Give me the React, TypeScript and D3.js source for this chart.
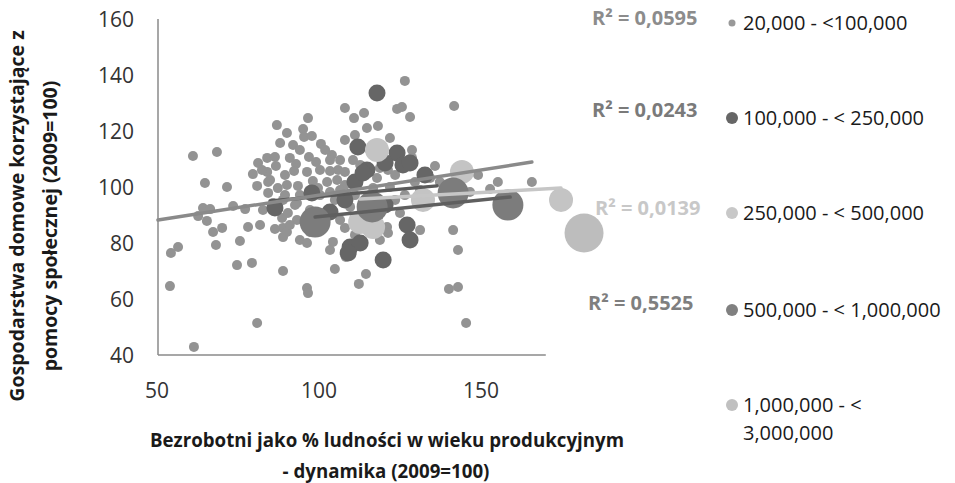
import React, { useRef, useEffect } from 'react';
import * as d3 from 'd3';

// series: 20,000 - <100,000
const s1x = [126.5, 141.7, 108.0, 113.9, 110.8, 96.6, 87.0, 118.2, 114.8, 124.1, 125.6, 128.1, 90.1, 95.1, 95.4, 97.8, 88.0, 92.0, 100.6, 108.0,
  111.1, 121.9, 61.1, 68.5, 81.2, 84.0, 86.4, 96.9, 104.0, 92.9, 92.3, 79.6, 84.0, 89.5, 84.3, 64.8, 71.6, 96.3, 100.3, 103.4,
  105.9, 80.9, 90.1, 93.5, 110.5, 128.7, 128.7, 118.8, 121.3, 135.8, 155.2, 165.7, 152.8, 98.1, 102.5, 105.6, 108.0, 117.9, 116.7, 121.9,
  84.9, 87.3, 84.3, 73.5, 77.2, 64.2, 66.4, 62.7, 82.7, 85.8, 65.4, 67.3, 70.1, 68.2, 78.1, 75.6, 56.5, 54.3, 88.6, 88.9,
  88.9, 86.4, 93.2, 94.1, 96.3, 104.3, 103.4, 108.0, 108.3, 121.0, 121.3, 141.4, 142.9, 74.7, 79.3, 88.9, 104.9, 114.5, 112.3, 54.0,
  96.3, 96.6, 140.1, 142.9, 80.9, 145.4, 61.4, 88.9, 93.2, 90.4, 90.1, 106.5,
  100.3, 104.9, 109.6, 97.2, 101.9, 111.1, 114.2, 106.5, 94.1, 99.7, 123.5, 126.5, 129.6, 134.3, 125.0, 111.1, 131.2, 137.3, 149.1, 146.6, 103.4,
  82.4, 86.7, 91.0, 99.1, 101.9, 106.5, 94.1, 89.5, 92.6, 99.7, 103.4, 108.0, 112.7, 115.7, 91.0, 97.2, 81.8, 115.7, 123.5, 131.2, 118.8];
const s1y = [137.9, 128.9, 128.2, 126.4, 124.6, 124.6, 122.1, 121.8, 121.1, 127.9, 128.6, 125.0, 119.3, 120.7, 117.9, 118.2, 115.7, 115.0, 115.4, 116.8,
  118.6, 117.5, 111.1, 112.5, 108.6, 110.4, 110.7, 110.7, 111.4, 108.2, 105.7, 104.6, 105.4, 104.3, 101.8, 101.4, 100.0, 105.4, 106.1, 105.7,
  106.1, 100.4, 100.7, 100.4, 109.6, 113.2, 110.4, 106.8, 106.1, 107.5, 101.8, 101.8, 99.3, 102.1, 101.8, 102.5, 100.7, 103.2, 99.6, 100.0,
  102.5, 99.6, 97.9, 93.2, 92.1, 92.5, 92.1, 89.6, 91.8, 94.3, 87.9, 83.9, 85.4, 79.3, 85.7, 80.7, 78.6, 76.4, 88.9, 85.4,
  82.1, 85.0, 88.2, 81.1, 80.0, 80.4, 77.5, 85.4, 75.0, 85.7, 83.6, 84.6, 77.5, 72.1, 72.9, 70.0, 70.7, 68.9, 65.4, 64.6,
  63.9, 62.1, 63.6, 64.3, 51.4, 51.4, 42.9, 95.4, 94.3, 90.7, 83.9, 88.2,
  97.1, 95.4, 92.9, 91.8, 90.0, 97.1, 90.0, 98.9, 97.1, 86.4, 95.4, 97.1, 101.8, 103.2, 90.7, 82.9, 84.6, 101.8, 104.3, 98.2, 109.6,
  106.1, 107.5, 110.4, 108.9, 113.2, 109.6, 113.2, 97.1, 93.6, 99.6, 98.2, 105.4, 107.9, 113.2, 86.4, 83.9, 86.4, 97.1, 104.3, 98.9, 81.1];

// series: 100,000 - < 250,000
const s2x = [117.9, 112.0, 124.1, 125.9, 128.1, 114.8, 111.1, 132.7, 97.8, 86.4, 127.2, 128.1, 119.8, 109.6, 112.7, 109.0, 113.6, 120.4, 108.0, 120.4, 131.2, 117.3, 103.4];
const s2y = [133.6, 114.3, 112.1, 107.9, 108.6, 106.1, 101.8, 104.3, 97.9, 92.5, 86.4, 81.1, 73.9, 78.6, 80.0, 76.4, 105.0, 108.6, 95.4, 93.6, 95.4, 90.0, 91.1];

// series: 250,000 - < 500,000
const s3x = [117.9, 144.1, 132.1, 112.7, 116.7, 174.7];
const s3y = [113.2, 105.4, 95.4, 87.5, 85.7, 95.4];

// series: 500,000 - < 1,000,000
const s4x = [98.8, 116.4, 141.4, 158.3];
const s4y = [87.5, 92.9, 97.9, 93.6];

// series: 1,000,000 - < 3,000,000
const s5x = [181.8];
const s5y = [83.6];

// linear trend lines [x0, y0, x1, y1]
const trend1 = [50.3, 88.2, 165.7, 108.9];
const trend2 = [84.9, 95.0, 136.4, 100.4];
const trend3 = [112.7, 95.7, 174.7, 99.6];
const trend4 = [98.8, 89.3, 159.0, 96.4];

const r2Labels = ['R² = 0,0595', 'R² = 0,0243', 'R² = 0,0139', 'R² = 0,5525'];
const legendLabels = [['20,000 - <100,000'], ['100,000 - < 250,000'], ['250,000 - < 500,000'], ['500,000 - < 1,000,000'], ['1,000,000 - <', '3,000,000']];
const xTicks = [50, 100, 150];
const yTicks = [40, 60, 80, 100, 120, 140, 160];

const FONT = '"Open Sans", sans-serif';

const drawChart = (svgEl: SVGSVGElement) => {
  const svg = d3.select(svgEl);
  svg.selectAll('*').remove();

  const x = d3.scaleLinear().domain([50, 150]).range([157, 481]);
  const y = d3.scaleLinear().domain([40, 160]).range([355, 19]);

  // axes lines
  svg.append('line').attr('x1', x(50) + 1).attr('x2', x(50) + 1).attr('y1', y(160)).attr('y2', y(40))
    .attr('stroke', '#8a8a8a').attr('stroke-width', 1.5);
  svg.append('line').attr('x1', x(50) + 1).attr('x2', x(170)).attr('y1', y(40)).attr('y2', y(40))
    .attr('stroke', '#8a8a8a').attr('stroke-width', 1.5);

  // tick labels
  svg.append('g').selectAll('text').data(yTicks).enter().append('text')
    .attr('x', 134).attr('y', d => y(d)).attr('dy', '0.36em')
    .attr('text-anchor', 'end').attr('font-family', FONT).attr('font-size', 21).attr('fill', '#333')
    .text(d => d);
  svg.append('g').selectAll('text').data(xTicks).enter().append('text')
    .attr('x', d => x(d)).attr('y', 398)
    .attr('text-anchor', 'middle').attr('font-family', FONT).attr('font-size', 21).attr('fill', '#333')
    .text(d => d);

  // points
  const series = [
    { xs: s1x, ys: s1y, r: 5, color: '#939393' },
    { xs: s2x, ys: s2y, r: 8.5, color: '#666666' },
    { xs: s3x, ys: s3y, r: 12, color: '#c4c4c4' },
    { xs: s4x, ys: s4y, r: 15.5, color: '#7c7c7c' },
    { xs: s5x, ys: s5y, r: 19.5, color: '#bdbdbd' },
  ];
  series.forEach(s => {
    svg.append('g').selectAll('circle').data(s.xs.map((v, i) => [v, s.ys[i]])).enter().append('circle')
      .attr('cx', d => x(d[0])).attr('cy', d => y(d[1])).attr('r', s.r).attr('fill', s.color);
  });

  // trend lines
  const trends = [
    { t: trend2, color: '#5a5a5a' },
    { t: trend1, color: '#8a8a8a' },
    { t: trend3, color: '#c6c6c6' },
    { t: trend4, color: '#5f5f5f' },
  ];
  trends.forEach(tr => {
    svg.append('line').attr('x1', x(tr.t[0])).attr('y1', y(tr.t[1])).attr('x2', x(tr.t[2])).attr('y2', y(tr.t[3]))
      .attr('stroke', tr.color).attr('stroke-width', 3.5).attr('stroke-linecap', 'round');
  });

  // R² labels
  const r2Pos = [[592, 25, '#8c8c8c'], [592, 117, '#7a7a7a'], [595, 215, '#c8c8c8'], [588, 310, '#7f7f7f']];
  r2Labels.forEach((t, i) => {
    svg.append('text').attr('x', r2Pos[i][0]).attr('y', r2Pos[i][1])
      .attr('font-family', FONT).attr('font-size', 20).attr('font-weight', 'bold').attr('fill', r2Pos[i][2] as string)
      .text(t);
  });

  // legend
  const legY = [23, 118, 213, 310, 405];
  const legMarker = [
    { r: 3.5, color: '#999999' },
    { r: 6, color: '#666666' },
    { r: 6, color: '#c8c8c8' },
    { r: 6, color: '#808080' },
    { r: 6, color: '#c0c0c0' },
  ];
  legendLabels.forEach((lines, i) => {
    svg.append('circle').attr('cx', 732).attr('cy', legY[i]).attr('r', legMarker[i].r).attr('fill', legMarker[i].color);
    lines.forEach((ln, j) => {
      svg.append('text').attr('x', 743).attr('y', legY[i] + j * 28).attr('dy', '0.36em')
        .attr('font-family', FONT).attr('font-size', 20).attr('fill', '#1a1a1a').text(ln);
    });
  });

  // axis titles
  const yTitle = [['Gospodarstwa domowe korzystające z', 17, 216], ['pomocy społecznej (2009=100)', 50, 226]];
  yTitle.forEach(([t, cx, cy]) => {
    svg.append('text').attr('transform', `translate(${cx},${cy}) rotate(-90)`).attr('dy', '0.35em')
      .attr('text-anchor', 'middle').attr('font-family', FONT).attr('font-size', 19.5).attr('font-weight', 'bold')
      .attr('fill', '#1a1a1a').text(t as string);
  });
  const xTitle = [['Bezrobotni jako % ludności w wieku produkcyjnym', 387, 447], ['- dynamika (2009=100)', 386, 478]];
  xTitle.forEach(([t, cx, cy]) => {
    svg.append('text').attr('x', cx as number).attr('y', cy as number)
      .attr('text-anchor', 'middle').attr('font-family', FONT).attr('font-size', 18.7).attr('font-weight', 'bold')
      .attr('fill', '#1a1a1a').text(t as string);
  });
};

const App: React.FC = () => {
  const ref = useRef<SVGSVGElement>(null);
  useEffect(() => {
    if (ref.current) drawChart(ref.current);
  }, []);
  return (
    <svg ref={ref} width={955} height={483} style={{ position: 'absolute', left: 0, top: 0, background: '#fff' }} />
  );
};

export default App;
